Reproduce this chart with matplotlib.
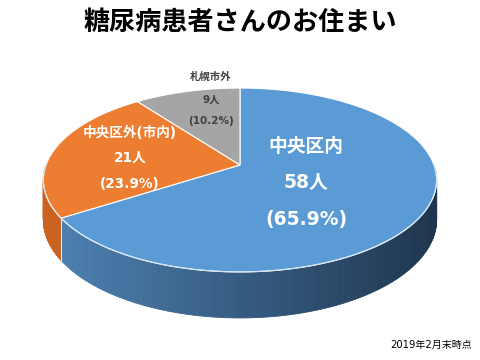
import numpy as np
import matplotlib
matplotlib.use("Agg")
import matplotlib.pyplot as plt
from matplotlib.patches import Polygon
from matplotlib.collections import PolyCollection
from matplotlib.colors import to_rgb

plt.rcParams['font.family'] = ['Noto Sans CJK JP', 'DejaVu Sans']

# data
categories = ['中央区内', '中央区外(市内)', '札幌市外']
counts = [58, 21, 9]
shares = [65.9, 23.9, 10.2]
top_colors = ['#5B9BD5', '#ED7D31', '#A5A5A5']
side_colors = [('#4f83b6', '#1e354d'), ('#c9631f', '#c05d1c'), ('#8a8a8a', '#6e6e6e')]
title = '糖尿病患者さんのお住まい'
note = '2019年2月末時点'

fig = plt.figure(figsize=(4.8, 3.6), dpi=100)
ax = fig.add_axes([0, 0, 1, 1])
ax.set_xlim(0, 480)
ax.set_ylim(360, 0)   # pixel-like coordinates, y down
ax.axis('off')

# perspective pie geometry
cx, cy = 240, 165     # projected centre of the pie
R, S = 194, 89.5      # horizontal / vertical radius factors
k = 0.163             # perspective strength (far side smaller)
D = 38.5              # thickness


def proj(theta_deg, drop=0.0):
    t = np.radians(theta_deg)
    u, v = np.cos(t), np.sin(t)
    w = 1 + k * v
    return cx + R * u / w, cy - S * v / w + drop * D / w


# slice angles: start at top, clockwise
bounds = 90 - np.concatenate([[0], np.cumsum(shares)]) / 100 * 360
slices = [(bounds[i + 1], bounds[i]) for i in range(len(shares))]

xl, xr = cx - R * 1.02, cx + R * 1.02

# side walls (front half: angles -180 .. 0)
for (a0, a1), (c_left, c_right) in zip(slices, side_colors):
    c_left, c_right = np.array(to_rgb(c_left)), np.array(to_rgb(c_right))
    for shift in (0, 360, -360):
        s, e = max(a0 + shift, -180), min(a1 + shift, 0)
        if e <= s:
            continue
        th = np.linspace(s, e, 160)
        xt, yt = proj(th)
        xb, yb = proj(th, 1)
        polys, cols = [], []
        for i in range(len(th) - 1):
            polys.append([(xt[i], yt[i]), (xt[i + 1], yt[i + 1]),
                          (xb[i + 1], yb[i + 1]), (xb[i], yb[i])])
            f = np.clip(((xt[i] + xt[i + 1]) / 2 - xl) / (xr - xl), 0, 1)
            cols.append(c_left * (1 - f) + c_right * f)
        ax.add_collection(PolyCollection(polys, facecolors=cols, edgecolors=cols,
                                         linewidths=0.6, zorder=1))
        # light seam at slice boundary on the side
        for a in (s, e):
            if -179 < a < -1:
                x0, y0 = proj(a)
                x1, y1 = proj(a, 1)
                ax.plot([x0, x1], [y0, y1], color='#f2f2f2', linewidth=0.7, zorder=1.5)

# top face
for (a0, a1), col in zip(slices, top_colors):
    th = np.linspace(a0, a1, 200)
    xs, ys = proj(th)
    pts = np.column_stack([np.concatenate([[cx], xs]), np.concatenate([[cy], ys])])
    ax.add_patch(Polygon(pts, closed=True, facecolor=col, edgecolor='white',
                         linewidth=0.8, zorder=2))

# front rim highlight
th = np.linspace(-180, 0, 200)
xs, ys = proj(th)
ax.plot(xs, ys, color='#d8e6f4', linewidth=0.8, zorder=3)

# labels
lab_font = ['DejaVu Sans', 'Noto Sans CJK JP']
label_pos = [(306, [146, 183, 219]), (130, [133, 158, 184]), (211, [77, 100, 121])]
label_size = [13.5, 9.8, 7.5]
label_color = ['white', 'white', '#404040']
for i in range(len(categories)):
    x, ys_ = label_pos[i]
    lines = [categories[i], f'{counts[i]}人', f'({shares[i]}%)']
    for txt, y in zip(lines, ys_):
        ax.text(x, y, txt, color=label_color[i], fontsize=label_size[i],
                fontweight='bold', ha='center', va='center', zorder=4,
                family=lab_font)

ax.text(240, 22, title, fontsize=18.8, fontweight='bold',
        ha='center', va='center', color='black')
ax.text(472, 345, note, fontsize=7.2, ha='right', va='center', color='black',
        family=['DejaVu Sans', 'Noto Sans CJK JP'])

fig.savefig('out.png', dpi=100)
